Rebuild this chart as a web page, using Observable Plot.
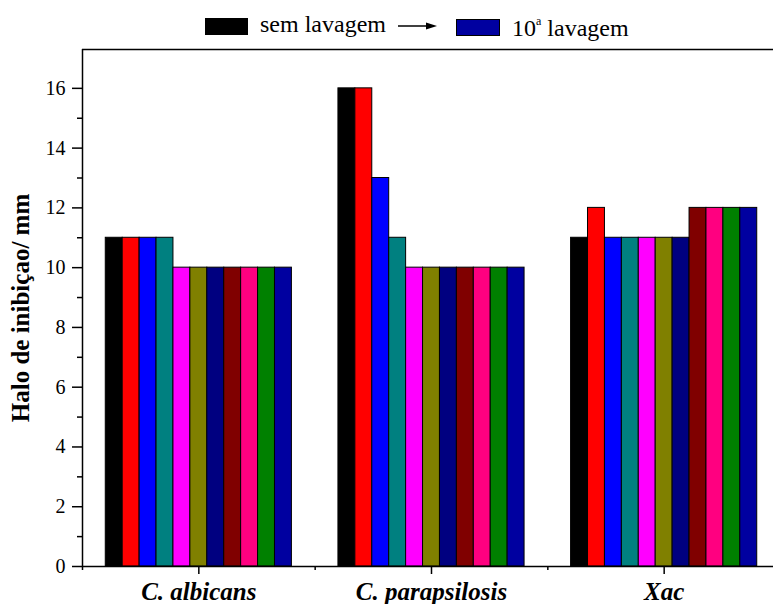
<!DOCTYPE html>
<html>
<head>
<meta charset="utf-8">
<script src="https://cdn.jsdelivr.net/npm/d3@7"></script>
<script src="https://cdn.jsdelivr.net/npm/@observablehq/plot@0.6"></script>
<style>
  body { margin: 0; background: #fff; font-family: "Liberation Serif", "Times New Roman", serif; }
  #wrap { position: relative; width: 773px; height: 604px; overflow: hidden; }
  #legend { position: relative; width: 773px; height: 44px; }
  #legend .sw { position: absolute; box-sizing: border-box; }
  #legend .lt { position: absolute; font-family: "Liberation Serif", "Times New Roman", serif; font-size: 24px; line-height: 24px; color: #000; white-space: nowrap; }
  #legend sup { font-size: 12px; vertical-align: 0; position: relative; top: -11px; }
  #chart svg { display: block; }
  #chart svg text { font-family: "Liberation Serif", "Times New Roman", serif; }
</style>
</head>
<body>
<div id="wrap">
  <div id="legend">
    <div class="sw" style="left:205px;top:18px;width:43px;height:17px;background:#000000;"></div>
    <div class="lt" style="left:260px;top:12px;">sem lavagem</div>
    <svg style="position:absolute;left:396px;top:20px;" width="44" height="12">
      <line x1="2" y1="6" x2="32" y2="6" stroke="#000" stroke-width="1.5"></line>
      <path d="M30,2.5 L41,6 L30,9.5 Z" fill="#000"></path>
    </svg>
    <div class="sw" style="left:456px;top:19px;width:44px;height:17px;background:#0000A0;border:1px solid #000;"></div>
    <div class="lt" style="left:512px;top:16px;">10<sup>a</sup> lavagem</div>
  </div>
  <div id="chart"></div>
</div>
<script>
const categories = ["C. albicans", "C. parapsilosis", "Xac"];
const series = ["sem lavagem", "1ª lavagem", "2ª lavagem", "3ª lavagem", "4ª lavagem", "5ª lavagem",
                "6ª lavagem", "7ª lavagem", "8ª lavagem", "9ª lavagem", "10ª lavagem"];
const albicansValues = [11, 11, 11, 11, 10, 10, 10, 10, 10, 10, 10];
const parapsilosisValues = [16, 16, 13, 11, 10, 10, 10, 10, 10, 10, 10];
const xacValues = [11, 12, 11, 11, 11, 11, 11, 12, 12, 12, 12];
const seriesColors = ["#000000", "#FF0000", "#0000FF", "#008080", "#FF00FF", "#808000",
                      "#000080", "#800000", "#FF0080", "#008000", "#0000A0"];
const yMajorTicks = [0, 2, 4, 6, 8, 10, 12, 14, 16];
const yMinorTicks = [1, 3, 5, 7, 9, 11, 13, 15];
const yMax = 17.3;
const yLabel = "Halo de inibiçao/ mm";

const valuesByCategory = [albicansValues, parapsilosisValues, xacValues];
const groupWidth = 0.8;
const barW = groupWidth / series.length;
const data = categories.flatMap((c, ci) =>
  valuesByCategory[ci].map((v, si) => ({
    category: c,
    series: series[si],
    value: v,
    x1: ci - groupWidth / 2 + si * barW,
    x2: ci - groupWidth / 2 + (si + 1) * barW
  }))
);
const categoryIndex = categories.map((c, i) => i);
const boundaries = categories.map((c, i) => i - 0.5);
const serif = "Liberation Serif, Times New Roman, serif";

const chart = Plot.plot({
  width: 773,
  height: 560,
  marginTop: 5,
  marginBottom: 38,
  marginLeft: 82,
  marginRight: 0,
  style: { fontFamily: serif, background: "white", color: "black", overflow: "visible" },
  x: { type: "linear", domain: [-0.5, categories.length - 0.5], range: [82, 780], axis: null },
  y: { domain: [0, yMax], axis: null },
  color: { domain: series, range: seriesColors },
  marks: [
    Plot.rectY(data, { x1: "x1", x2: "x2", y: "value", fill: "series", stroke: "black", strokeWidth: 1 }),
    Plot.ruleY([0], { strokeWidth: 1.5 }),
    Plot.ruleY([yMax], { strokeWidth: 1.5 }),
    Plot.ruleX([-0.5], { strokeWidth: 1.5 }),
    Plot.axisY({ ticks: yMajorTicks, tickSize: 10, tickPadding: 7, fontSize: 20, fontFamily: serif, label: null, strokeWidth: 1.5 }),
    Plot.axisY({ ticks: yMinorTicks, tickSize: 5, tickFormat: () => "", label: null, strokeWidth: 1.5 }),
    Plot.axisX({ ticks: categoryIndex, tickFormat: i => categories[i], tickSize: 8, tickPadding: 8, fontFamily: serif,
                 fontSize: 25, fontStyle: "italic", fontWeight: "bold", label: null, strokeWidth: 1.5 }),
    Plot.axisX({ ticks: boundaries, tickSize: 4, tickFormat: () => "", label: null, strokeWidth: 1.5 }),
    Plot.text([yLabel], { frameAnchor: "left", textAnchor: "middle", rotate: -90, dx: -62, fontSize: 25,
                          fontFamily: serif, fontWeight: "bold", fill: "black" })
  ]
});
document.getElementById("chart").appendChild(chart);
</script>
</body>
</html>
